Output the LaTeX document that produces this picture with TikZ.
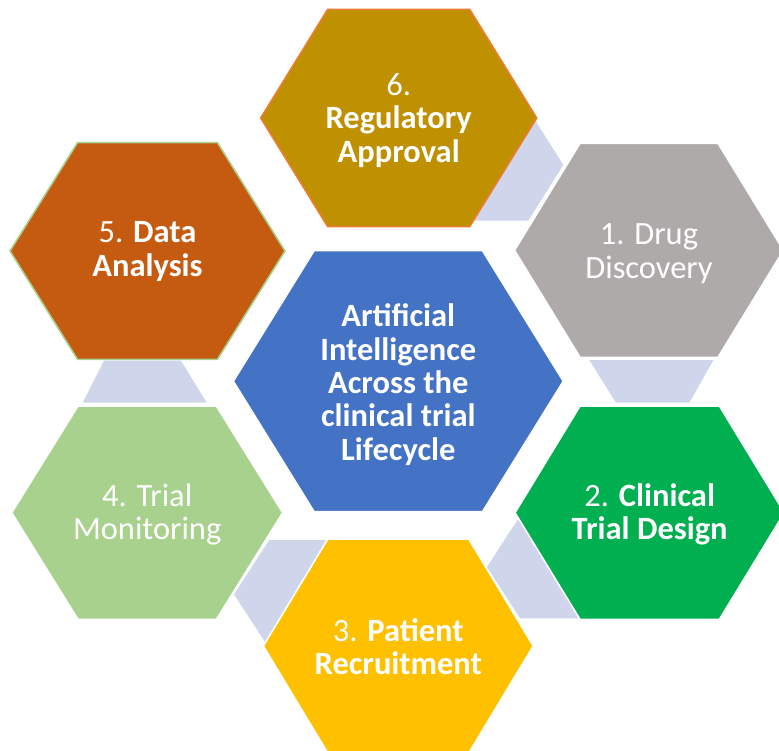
\documentclass[tikz,border=0pt]{standalone}
\usepackage{fontspec}
\setmainfont{Carlito}
\definecolor{hexgold}{HTML}{BF9000}
\definecolor{hexgray}{HTML}{AEAAAA}
\definecolor{hexrust}{HTML}{C55A11}
\definecolor{hexblue}{HTML}{4472C4}
\definecolor{hexgreen}{HTML}{00B050}
\definecolor{hexlime}{HTML}{A9D18E}
\definecolor{hexyellow}{HTML}{FFC000}
\definecolor{linkfill}{HTML}{CFD5EA}
\definecolor{edgeorange}{HTML}{ED7D31}
% flat-topped hexagon: centre x, centre y, half width, half top edge, half height
\newcommand{\hexoutline}[5]{%
  ({#1-#3},{#2}) -- ({#1-#4},{#2-#5}) -- ({#1+#4},{#2-#5}) --
  ({#1+#3},{#2}) -- ({#1+#4},{#2+#5}) -- ({#1-#4},{#2+#5}) -- cycle}
\begin{document}
\begin{tikzpicture}[x=1pt,y=-1pt,
  hexbody/.style={draw=white, line width=1.6pt, line join=miter},
  linkbody/.style={fill=linkfill},
  hexlabel/.style={text=white, align=center, inner sep=0pt,
    font=\fontsize{32.5}{33.4}\selectfont,
    execute at begin node=\strut, execute at end node=\strut}]
\useasboundingbox (0,0) rectangle (779,751);
\clip (0,0) rectangle (779,751);

% light links between neighbouring steps
\fill[linkbody] (480,109) -- (528,109) -- (563.3,165) -- (528.3,220.7) -- (470,220.7) -- cycle;
\fill[linkbody] (589.3,360.2) -- (713.3,360.2) -- (689.3,402.7) -- (616,402.7) -- cycle;
\fill[linkbody] (520,516) -- (487,567) -- (520,618.3) -- (600,618.3) -- (600,516) -- cycle;
\fill[linkbody] (269.3,540) -- (330,540) -- (330,648) -- (269,648) -- (234,594.3) -- cycle;
\fill[linkbody] (104,360.7) -- (181,360.7) -- (206.7,402.7) -- (82.7,402.7) -- cycle;

% outer steps
\filldraw[hexbody, fill=hexgold, draw=edgeorange] \hexoutline{398.7}{118}{138}{71}{108.6};
\filldraw[hexbody, fill=hexgray] \hexoutline{649}{250.3}{134.5}{69}{107};
\filldraw[hexbody, fill=hexrust, draw=hexlime] \hexoutline{147.5}{251}{137.5}{70}{108.3};
\filldraw[hexbody, fill=hexgreen] \hexoutline{649.7}{512.7}{134.7}{69.7}{106.7};
\filldraw[hexbody, fill=hexlime] \hexoutline{147.2}{512.7}{135.5}{69.2}{106.7};
\filldraw[hexbody, fill=hexyellow] \hexoutline{398.3}{646}{135}{70.5}{107};
% centre
\filldraw[hexbody, fill=hexblue] \hexoutline{398.3}{381.2}{165}{84.2}{130.5};

% labels
\node[hexlabel] (approval) at (398.7,123) {6.\\\textbf{Regulatory}\\\textbf{Approval}};
\node[hexlabel] (discovery) at (649,256) {1. Drug\\Discovery};
\node[hexlabel] (analysis) at (147.5,254) {5. \textbf{Data}\\\textbf{Analysis}};
\node[hexlabel] (design) at (649.7,516.5) {2. \textbf{Clinical}\\\textbf{Trial Design}};
\node[hexlabel] (monitoring) at (147.2,516.5) {4. Trial\\Monitoring};
\node[hexlabel] (recruitment) at (398.3,651.5) {3. \textbf{Patient}\\\textbf{Recruitment}};
\node[hexlabel, font=\bfseries\fontsize{32.5}{33.4}\selectfont] (core) at (398.3,387)
  {Artificial\\Intelligence\\Across the\\clinical trial\\Lifecycle};
\end{tikzpicture}
\end{document}
